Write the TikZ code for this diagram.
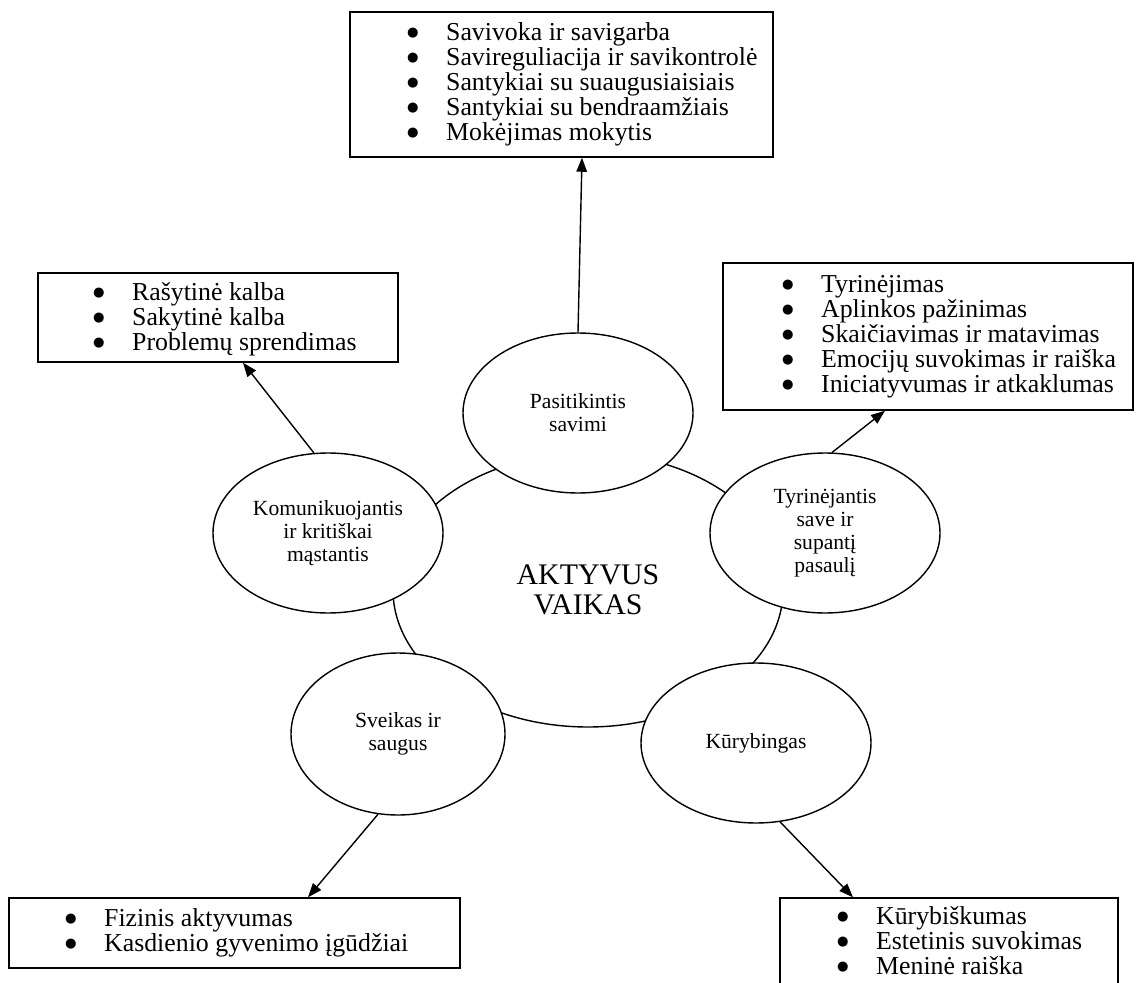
\documentclass[tikz,border=0pt]{standalone}
\usepackage{fontspec}
\setmainfont{Liberation Serif}
\newfontfamily\zenklai{DejaVu Sans}
\usetikzlibrary{shapes.geometric,arrows.meta}
\newcommand{\punktas}{\makebox[0.78cm][l]{\raisebox{2.2pt}{\zenklai\fontsize{7.5}{7.5}\selectfont ●}}}

\begin{document}
\begin{tikzpicture}[
    sritis/.style={ellipse, draw, fill=white, line width=0.8pt, minimum width=4.6cm, minimum height=3.2cm, inner sep=0pt, align=center, font=\fontsize{12.3}{13}\selectfont},
    remelis/.style={draw, line width=0.8pt, inner sep=0pt},
    sarasas/.style={anchor=west, align=left, inner sep=0pt, font=\fontsize{14.7}{14.2}\selectfont},
    rodykle/.style={line width=0.8pt, -{Triangle[length=8pt, width=6pt]}}
  ]
    \useasboundingbox (0,0) rectangle (22.74,-19.66);
    \clip (0,0) rectangle (22.74,-19.66);
    \node[ellipse, draw, line width=0.8pt, minimum width=7.8cm, minimum height=5.48cm, align=center, font=\fontsize{17}{17.1}\selectfont] (vaikas) at (11.76,-11.8) {AKTYVUS\\VAIKAS};
    \node[sritis] (pasit) at (11.56,-8.26) {Pasitikintis\\savimi};
    \node[sritis] (komun) at (6.56,-10.66) {Komunikuojantis\\ir kritiškai\\mąstantis};
    \node[sritis] (tyrin) at (16.5,-10.66) {Tyrinėjantis\\save ir\\supantį\\pasaulį};
    \node[sritis, minimum width=4.28cm, minimum height=3.24cm] (sveik) at (7.96,-14.68) {Sveikas ir\\saugus};
    \node[sritis] (kuryb) at (15.12,-14.86) {Kūrybingas};

    \node[remelis, minimum width=8.46cm, minimum height=2.9cm] (pasitR) at (11.23,-1.69) {};
    \node[sarasas] (pasitS) at ([xshift=1.15cm]pasitR.west) {\punktas Savivoka ir savigarba\\
        \punktas Savireguliacija ir savikontrolė\\
        \punktas Santykiai su suaugusiaisiais\\
        \punktas Santykiai su bendraamžiais\\
        \punktas Mokėjimas mokytis};
    \node[remelis, minimum width=7.2cm, minimum height=1.78cm] (komunR) at (4.36,-6.35) {};
    \node[sarasas] (komunS) at ([xshift=1.11cm,yshift=-0.04cm]komunR.west) {\punktas Rašytinė kalba\\
        \punktas Sakytinė kalba\\
        \punktas Problemų sprendimas};
    \node[remelis, minimum width=8.2cm, minimum height=2.94cm] (tyrinR) at (18.56,-6.73) {};
    \node[sarasas] (tyrinS) at ([xshift=1.19cm]tyrinR.west) {\punktas Tyrinėjimas\\
        \punktas Aplinkos pažinimas\\
        \punktas Skaičiavimas ir matavimas\\
        \punktas Emocijų suvokimas ir raiška\\
        \punktas Iniciatyvumas ir atkaklumas};
    \node[remelis, minimum width=9.02cm, minimum height=1.4cm] (sveikR) at (4.69,-18.66) {};
    \node[sarasas] (sveikS) at ([xshift=1.13cm]sveikR.west) {\punktas Fizinis aktyvumas\\
        \punktas Kasdienio gyvenimo įgūdžiai};
    \node[remelis, minimum width=6.76cm, minimum height=1.94cm] (kurybR) at (18.98,-18.93) {};
    \node[sarasas] (kurybS) at ([xshift=1.15cm,yshift=0.12cm]kurybR.west) {\punktas Kūrybiškumas\\
        \punktas Estetinis suvokimas\\
        \punktas Meninė raiška};

    \draw[rodykle] (pasit.north) -- ([xshift=0.41cm]pasitR.south);
    \draw[rodykle] (komun.100) -- ([xshift=0.5cm]komunR.south);
    \draw[rodykle] (tyrin.85) -- ([xshift=-0.86cm]tyrinR.south);
    \draw[rodykle] (sveik.256) -- ([xshift=1.47cm]sveikR.north);
    \draw[rodykle] (kuryb.287) -- ([xshift=-1.92cm]kurybR.north);
\end{tikzpicture}
\end{document}
